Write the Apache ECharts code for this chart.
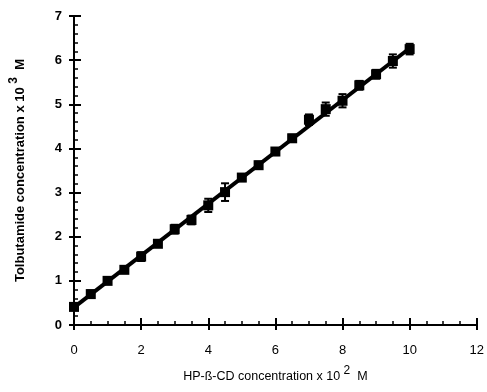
<!DOCTYPE html>
<html>
<head>
<meta charset="utf-8">
<script src="https://cdn.jsdelivr.net/npm/echarts@6/dist/echarts.min.js"></script>
<style>
  html, body { margin: 0; padding: 0; background: #fff; }
  #chart { width: 487px; height: 392px; }
</style>
</head>
<body>
<div id="chart"></div>
<script>
// HP-beta-CD concentration (x 10^2 M)
const hpcd = [0, 0.5, 1, 1.5, 2, 2.5, 3, 3.5, 4, 4.5, 5, 5.5, 6, 6.5, 7, 7.5, 8, 8.5, 9, 9.5, 10];
// tolbutamide concentration (x 10^3 M)
const tolb = [0.41, 0.70, 1.0, 1.25, 1.55, 1.84, 2.17, 2.38, 2.71, 3.01, 3.34, 3.62, 3.93, 4.23, 4.65, 4.89, 5.08, 5.43, 5.68, 5.98, 6.25];
// error (+/-)
const errs = [0.06, 0.08, 0.07, 0.06, 0.1, 0.07, 0.1, 0.1, 0.15, 0.2, 0.08, 0.08, 0.08, 0.08, 0.12, 0.15, 0.15, 0.1, 0.1, 0.15, 0.12];
// fitted line end points
const fitX = [0, 10];
const fitY = [0.40, 6.27];

const chart = echarts.init(document.getElementById('chart'));

const font = 'Liberation Sans, Arial, sans-serif';

// extra axis that only draws tick marks
function tickAxis(pos, max, step, len, w, inside) {
    return {
        type: 'value', position: pos, min: 0, max: max, interval: step,
        axisLine: { show: false },
        axisTick: { show: true, inside: inside, length: len, lineStyle: { color: '#000', width: w } },
        axisLabel: { show: false },
        splitLine: { show: false }
    };
}

// extra axis whose first split line (at 0) is the axis line; the one at max is transparent
function lineAxis(pos, max) {
    return {
        type: 'value', position: pos, min: 0, max: max, interval: max,
        axisLine: { show: false },
        axisTick: { show: false },
        axisLabel: { show: false },
        splitLine: { show: true, lineStyle: { color: ['#000', 'rgba(0,0,0,0)'], width: 2, type: 'solid' } }
    };
}

const option = {
    animation: false,
    grid: { left: 70, right: 8, top: 16, bottom: 65 },
    xAxis: [
        tickAxis('bottom', 12, 0.5, 4, 1.5, true),
        tickAxis('bottom', 12, 2, 7, 2, true),
        tickAxis('bottom', 12, 2, 5, 2, false),
        lineAxis('bottom', 12),
        {
            type: 'value',
            position: 'bottom',
            min: 0, max: 12, interval: 2,
            axisLine: { show: true, lineStyle: { color: '#000', width: 2 } },
            splitLine: { show: false },
            axisTick: { show: false },
            axisLabel: { color: '#000', fontSize: 13, fontFamily: font, margin: 19 },
            name: '{t|HP-ß-CD concentration x 10 }{s|2}{t|  M}',
            nameLocation: 'middle',
            nameGap: 40,
            nameTextStyle: {
                rich: {
                    t: { fontSize: 12.5, fontFamily: font, color: '#000', verticalAlign: 'bottom', lineHeight: 18 },
                    s: { fontSize: 12, fontFamily: font, color: '#000', verticalAlign: 'top', lineHeight: 18, padding: [0, 0, 10, 0] }
                }
            }
        }
    ],
    yAxis: [
        tickAxis('left', 7, 0.2, 4, 1.5, true),
        tickAxis('left', 7, 1, 7, 2, true),
        tickAxis('left', 7, 1, 5, 2, false),
        lineAxis('left', 7),
        {
            type: 'value',
            position: 'left',
            min: 0, max: 7, interval: 1,
            axisLine: { show: true, lineStyle: { color: '#000', width: 2 } },
            splitLine: { show: false },
            axisTick: { show: false },
            axisLabel: { color: '#000', fontSize: 13, fontFamily: font, fontWeight: 'bold', margin: 12 },
            name: '{t|Tolbutamide concentration x 10 }{s|3}{t|  M}',
            nameLocation: 'middle',
            nameRotate: 90,
            nameGap: 42,
            nameTextStyle: {
                rich: {
                    t: { fontSize: 13, fontFamily: font, fontWeight: 'bold', color: '#000' },
                    s: { fontSize: 12, fontFamily: font, fontWeight: 'bold', color: '#000', padding: [0, 0, 12, 0] }
                }
            }
        }
    ],
    series: [
        {
            type: 'line',
            data: fitX.map((x, i) => [x, fitY[i]]),
            symbol: 'none',
            lineStyle: { color: '#000', width: 4 },
            z: 2
        },
        {
            type: 'custom',
            data: hpcd.map((x, i) => [x, tolb[i] - errs[i], tolb[i] + errs[i]]),
            renderItem: function (params, api) {
                const lo = api.coord([api.value(0), api.value(1)]);
                const hi = api.coord([api.value(0), api.value(2)]);
                const cap = 4;
                const style = { stroke: '#000', lineWidth: 2 };
                return {
                    type: 'group',
                    children: [
                        { type: 'line', shape: { x1: lo[0], y1: lo[1], x2: hi[0], y2: hi[1] }, style },
                        { type: 'line', shape: { x1: lo[0] - cap, y1: lo[1], x2: lo[0] + cap, y2: lo[1] }, style },
                        { type: 'line', shape: { x1: hi[0] - cap, y1: hi[1], x2: hi[0] + cap, y2: hi[1] }, style }
                    ]
                };
            },
            z: 3
        },
        {
            type: 'scatter',
            data: hpcd.map((x, i) => [x, tolb[i]]),
            symbol: 'rect',
            symbolSize: 10,
            itemStyle: { color: '#000', opacity: 1 },
            z: 4
        }
    ]
};

chart.setOption(option);
</script>
</body>
</html>
